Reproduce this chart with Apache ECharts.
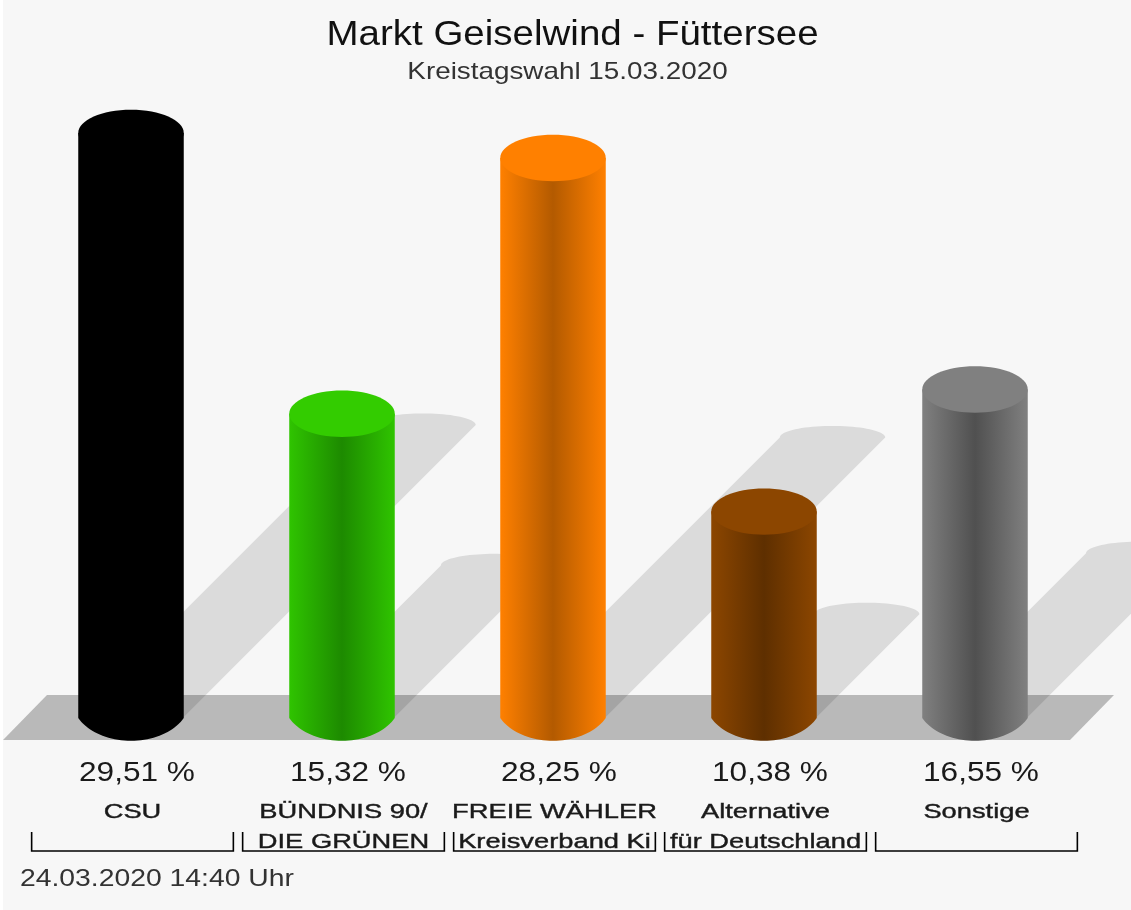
<!DOCTYPE html>
<html>
<head>
<meta charset="utf-8">
<style>
  html, body { margin: 0; padding: 0; background: #f7f7f7; }
  #plot { width: 1131px; height: 910px; }
</style>
<script src="https://cdn.jsdelivr.net/npm/echarts@6/dist/echarts.min.js"></script>
</head>
<body>
<div id="plot"></div>
<script>
// Werte aus dem Bild
var parties = ['CSU', 'BÜNDNIS 90/\nDIE GRÜNEN', 'FREIE WÄHLER\nKreisverband Ki', 'Alternative\nfür Deutschland', 'Sonstige'];
var values = [29.51, 15.32, 28.25, 10.38, 16.55];
var edgeColors = ['#000000', '#2fc400', '#ff8000', '#8c4600', '#808080'];
var midColors = ['#000000', '#1d8a00', '#b35a00', '#5e2f00', '#505050'];
var capColors = ['#000000', '#33cc00', '#ff8000', '#8c4600', '#808080'];

var titleText = 'Markt Geiselwind - Füttersee';
var subText = 'Kreistagswahl 15.03.2020';
var stampText = '24.03.2020 14:40 Uhr';

var font = '"Liberation Sans", Arial, sans-serif';
var textColor = '#1a1a1a';

// halbe Ellipse als Punkte, von links nach rechts
function halfEllipse(cx, cy, rx, ry, dir) {
  var pts = [];
  for (var i = 0; i <= 40; i++) {
    var a = Math.PI * i / 40;
    pts.push([cx - rx * Math.cos(a), cy + dir * ry * Math.sin(a)]);
  }
  return pts;
}

// Boden der Saeule: flacher Bogen mit Ecke an den Seiten
function bottomArc(cx, yEdge, r, depth) {
  var a0 = 25 * Math.PI / 180;
  var rx = r / Math.cos(a0);
  var ry = depth / (1 - Math.sin(a0));
  var cy = yEdge + depth - ry;
  var pts = [];
  for (var i = 0; i <= 40; i++) {
    var a = a0 + (Math.PI - 2 * a0) * i / 40;
    pts.push([cx + rx * Math.cos(a), cy + ry * Math.sin(a)]);
  }
  return pts;
}

function renderShadow(params, api) {
  var base = api.coord([api.value(0), 0]);
  var top = api.coord([api.value(0), api.value(1)]);
  var r = api.size([1, 0])[0] * 0.25;
  var s = (base[1] - top[1]) / 2; // Schatten: halbe Hoehe, 45 Grad
  var pts = [[base[0] - r, base[1]]]
    .concat(halfEllipse(base[0] + s, base[1] - s, r, r * 0.22, -1))
    .concat([[base[0] + r, base[1]]]);
  return {
    type: 'polygon',
    shape: { points: pts },
    style: { fill: 'rgba(0,0,0,0.11)' }
  };
}

function renderBar(params, api) {
  var i = params.dataIndex;
  var base = api.coord([api.value(0), 0]);
  var top = api.coord([api.value(0), api.value(1)]);
  var r = api.size([1, 0])[0] * 0.25;
  var ry = r * 0.44;
  var body = [[base[0] - r, top[1]], [base[0] + r, top[1]]]
    .concat(bottomArc(base[0], base[1] + 1, r, ry - 0.5));
  var fill = new echarts.graphic.LinearGradient(0, 0, 1, 0, [
    { offset: 0, color: edgeColors[i] },
    { offset: 0.5, color: midColors[i] },
    { offset: 1, color: edgeColors[i] }
  ]);
  var lines = parties[i].split('\n');
  var cx = base[0] + 1.5;
  var hw = api.size([1, 0])[0] * 0.478;
  var children = [
    { type: 'polygon', shape: { points: body }, style: { fill: fill } },
    { type: 'ellipse', shape: { cx: top[0], cy: top[1], rx: r, ry: ry }, style: { fill: capColors[i] } },
    {
      type: 'text', x: base[0] + 6, y: base[1] + 57, scaleX: 1.17,
      style: {
        text: values[i].toFixed(2).replace('.', ',') + ' %',
        font: '27px ' + font, fill: textColor, align: 'center', verticalAlign: 'middle'
      }
    },
    {
      type: 'polyline',
      shape: { points: [[cx - hw, base[1] + 115], [cx - hw, base[1] + 134], [cx + hw, base[1] + 134], [cx + hw, base[1] + 115]] },
      style: { stroke: '#000000', lineWidth: 1.6, fill: null }
    }
  ];
  lines.forEach(function (line, k) {
    children.push({
      type: 'text', x: cx, y: base[1] + 95 + k * 30, scaleX: 1.3,
      style: {
        text: line, font: '21px ' + font, fill: textColor,
        stroke: textColor, lineWidth: 0.4,
        align: 'center', verticalAlign: 'middle'
      }
    });
  });
  return { type: 'group', children: children };
}

var barData = values.map(function (v, i) { return [i, v]; });

var myChart = echarts.init(document.getElementById('plot'));

var option = {
  animation: false,
  backgroundColor: '#f7f7f7',
  grid: { left: 25.5, top: 117, width: 1055, height: 600 },
  xAxis: { type: 'category', data: parties, show: false },
  yAxis: { type: 'value', min: 0, max: 30.32, show: false },
  graphic: [
    { type: 'rect', z: -2, shape: { x: 0, y: 0, width: 3, height: 910 }, style: { fill: '#ffffff' } },
    { type: 'polygon', z: -1, shape: { points: [[47, 695], [1114, 695], [1070, 740], [3, 740]] }, style: { fill: '#b9b9b9' } },
    { type: 'text', x: 572.5, y: 35, scaleX: 1.1, style: { text: titleText, font: '35px ' + font, fill: '#111111', align: 'center', verticalAlign: 'middle' } },
    { type: 'text', x: 567.5, y: 72, scaleX: 1.16, style: { text: subText, font: '24px ' + font, fill: '#333333', align: 'center', verticalAlign: 'middle' } },
    { type: 'text', x: 20, y: 879, scaleX: 1.18, style: { text: stampText, font: '24px ' + font, fill: '#333333', align: 'left', verticalAlign: 'middle' } }
  ],
  series: [
    { type: 'custom', z: 1, data: barData, renderItem: renderShadow, clip: false, silent: true },
    { type: 'custom', z: 2, data: barData, renderItem: renderBar, clip: false, silent: true }
  ]
};

myChart.setOption(option);
</script>
</body>
</html>
